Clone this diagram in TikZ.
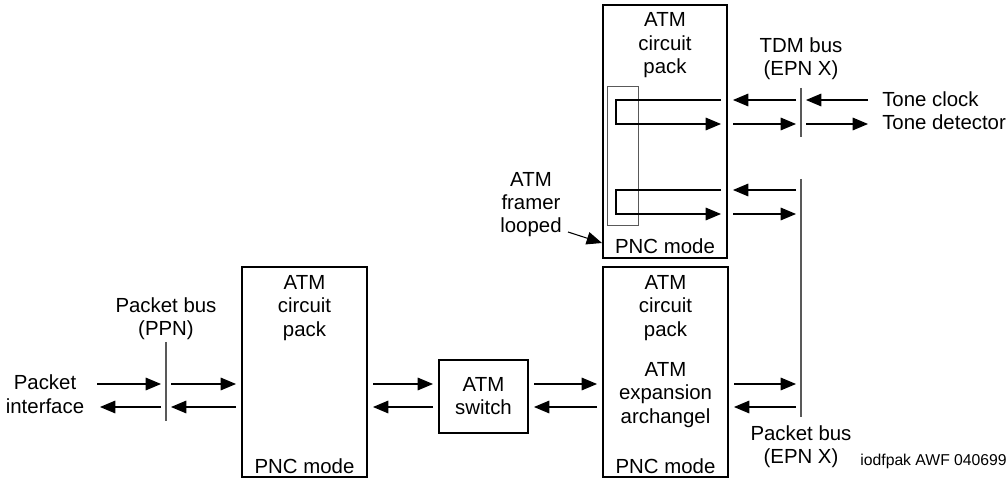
\documentclass[tikz,border=0pt]{standalone}
\usepackage{fontspec}
\setmainfont{Liberation Sans}
\usetikzlibrary{arrows.meta,positioning,calc}
\tikzset{
  >={Triangle[length=11.5pt,width=9.5pt]},
  pack/.style={draw, line width=1.5pt, inner sep=0pt},
  lbl/.style={font=\fontsize{15.3}{17.6}\selectfont, align=center, inner sep=0pt},
  tag/.style={font=\fontsize{11.8}{14}\selectfont, inner sep=0pt},
  arr/.style={->, line width=0.8pt},
  bus/.style={draw=black!65, line width=0.9pt},
  gap/.style={shorten <=3.75pt, shorten >=3.75pt},
  tobus/.style={shorten >=3.75pt},
  frombus/.style={shorten <=3.75pt}
}
\begin{document}
\begin{tikzpicture}[x=0.75pt,y=-0.75pt]
  \useasboundingbox (0,0) rectangle (1008,481);
  % circuit packs and switch
  \node[pack, minimum width=93.75pt, minimum height=157.5pt] (lpack) at (304.5,372) {};
  \node[pack, minimum width=66.75pt, minimum height=54.75pt] (sw) at (483.5,396.5) {};
  \node[pack, minimum width=93.75pt, minimum height=157.5pt] (brpack) at (665.5,372) {};
  \node[pack, minimum width=93pt, minimum height=189.75pt] (trpack) at (665,131.5) {};
  \node[draw=black!65, line width=0.75pt, inner sep=0pt, minimum width=23.25pt, minimum height=104.25pt] (framer) at (622.5,156.5) {};

  % base = last line
  \node[lbl, anchor=base] (lname) at ($(lpack.north)+(0,70)$) {ATM\\circuit\\pack};
  \node[lbl, anchor=base] (lmode) at ($(lpack.south)+(0,-5)$) {PNC mode};
  \node[lbl, anchor=base] (swname) at ($(sw.north)+(0,55.5)$) {ATM\\switch};
  \node[lbl, anchor=base] (brname) at ($(brpack.north)+(0,70)$) {ATM\\circuit\\pack};
  \node[lbl, anchor=base] (brexp) at ($(brpack.north)+(0,157)$) {ATM\\expansion\\archangel};
  \node[lbl, anchor=base] (brmode) at ($(brpack.south)+(0,-5)$) {PNC mode};
  \node[lbl, anchor=base] (trname) at ($(trpack.north)+(0,69.5)$) {ATM\\circuit\\pack};
  \node[lbl, anchor=base] (trmode) at ($(trpack.south)+(0,-5)$) {PNC mode};

  % labels
  \node[lbl, anchor=base] (pif) at (45,413) {Packet\\interface};
  \node[lbl, anchor=base] (ppn) at (166,335.5) {Packet bus\\(PPN)};
  \node[lbl, anchor=base] (tdm) at (801,75.5) {TDM bus\\(EPN X)};
  \node[lbl, anchor=base] (epn) at (801,463.5) {Packet bus\\(EPN X)};
  \node[lbl, anchor=base west] (tclkl) at (882,107) {Tone clock};
  \node[lbl, anchor=base west] (tdetl) at (882,130) {Tone detector};
  \node[lbl, anchor=base] (frl) at (531,233) {ATM\\framer\\looped};
  \node[tag, anchor=base east] (id) at (1007,465) {iodfpak AWF 040699};

  % rows and free ends
  \coordinate (r1) at (0,100);
  \coordinate (r2) at (0,124);
  \coordinate (r3) at (0,190);
  \coordinate (r4) at (0,214);
  \coordinate (rA) at (0,384);
  \coordinate (rB) at (0,407);
  \coordinate (rF) at (0,243);
  \coordinate (pin) at (97,384);
  \coordinate (pout) at (100,407);
  \coordinate (tclk) at (868,100);
  \coordinate (tdet) at (868,124);
  \coordinate (frs) at (568,232);
  \coordinate (lpx) at (616,0);
  \coordinate (lpend) at (721,0);

  % buses
  \coordinate (ppn1) at (166,342);
  \coordinate (ppn2) at (166,421);
  \coordinate (tdm1) at (801,88);
  \coordinate (tdm2) at (801,137);
  \coordinate (epn1) at (801,179);
  \coordinate (epn2) at (801,417);
  \draw[bus] (ppn1) -- (ppn2);
  \draw[bus] (tdm1) -- (tdm2);
  \draw[bus] (epn1) -- (epn2);

  % packet side
  \draw[arr, tobus] (pin) -- (ppn1 |- rA);
  \draw[arr, gap] (ppn1 |- rA) -- (lpack.west |- rA);
  \draw[arr, gap] (lpack.west |- rB) -- (ppn1 |- rB);
  \draw[arr, frombus] (ppn1 |- rB) -- (pout);
  \draw[arr, gap] (lpack.east |- rA) -- (sw.west |- rA);
  \draw[arr, gap] (sw.west |- rB) -- (lpack.east |- rB);
  \draw[arr, gap] (sw.east |- rA) -- (brpack.west |- rA);
  \draw[arr, gap] (brpack.west |- rB) -- (sw.east |- rB);
  \draw[arr, gap] (brpack.east |- rA) -- (epn1 |- rA);
  \draw[arr, gap] (epn1 |- rB) -- (brpack.east |- rB);

  % looped pack
  \draw[arr, gap] (tdm1 |- r1) -- (trpack.east |- r1);
  \draw[arr, gap] (trpack.east |- r2) -- (tdm1 |- r2);
  \draw[arr, tobus] (tclk) -- (tdm1 |- r1);
  \draw[arr, frombus] (tdm1 |- r2) -- (tdet);
  \draw[arr, gap] (epn1 |- r3) -- (trpack.east |- r3);
  \draw[arr, gap] (trpack.east |- r4) -- (epn1 |- r4);
  \draw[arr] (lpend |- r1) -- (lpx |- r1) |- (lpend |- r2);
  \draw[arr] (lpend |- r3) -- (lpx |- r3) |- (lpend |- r4);
  \draw[arr] (frs) -- (trpack.west |- rF);
\end{tikzpicture}
\end{document}
